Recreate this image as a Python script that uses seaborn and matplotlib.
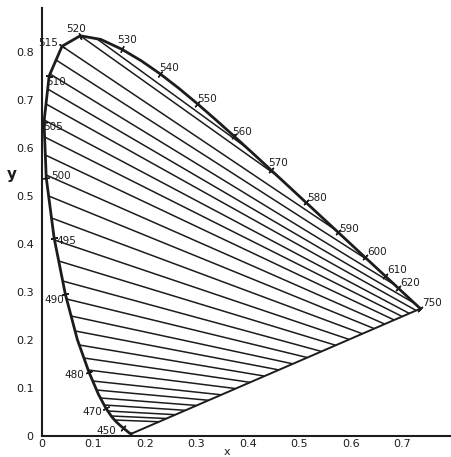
import math
import matplotlib
matplotlib.use("Agg")
import matplotlib.pyplot as plt
import seaborn as sns
import pandas as pd
from matplotlib.collections import LineCollection

# CIE 1931 spectral locus (nm, x, y)
wavelength = [380, 385, 390, 395, 400, 405, 410, 415, 420, 425, 430, 435, 440,
              445, 450, 455, 460, 465, 470, 475, 480, 485, 490, 495, 500, 505,
              510, 515, 520, 525, 530, 535, 540, 545, 550, 555, 560, 565, 570,
              575, 580, 585, 590, 595, 600, 605, 610, 615, 620, 625, 630, 635,
              640, 650, 660, 680, 700, 750]
locus_x = [0.1741, 0.1740, 0.1738, 0.1736, 0.1733, 0.1730, 0.1726, 0.1721,
           0.1714, 0.1703, 0.1689, 0.1669, 0.1644, 0.1611, 0.1566, 0.1510,
           0.1440, 0.1355, 0.1241, 0.1096, 0.0913, 0.0687, 0.0454, 0.0235,
           0.0082, 0.0039, 0.0139, 0.0389, 0.0743, 0.1142, 0.1547, 0.1929,
           0.2296, 0.2658, 0.3016, 0.3373, 0.3731, 0.4087, 0.4441, 0.4788,
           0.5125, 0.5448, 0.5752, 0.6029, 0.6270, 0.6482, 0.6658, 0.6801,
           0.6915, 0.7006, 0.7079, 0.7140, 0.7190, 0.7260, 0.7300, 0.7334,
           0.7347, 0.7347]
locus_y = [0.0050, 0.0050, 0.0049, 0.0049, 0.0048, 0.0048, 0.0048, 0.0048,
           0.0051, 0.0058, 0.0069, 0.0086, 0.0109, 0.0138, 0.0177, 0.0227,
           0.0297, 0.0399, 0.0578, 0.0868, 0.1327, 0.2007, 0.2950, 0.4127,
           0.5384, 0.6548, 0.7502, 0.8120, 0.8338, 0.8262, 0.8059, 0.7816,
           0.7543, 0.7243, 0.6923, 0.6589, 0.6245, 0.5896, 0.5547, 0.5202,
           0.4866, 0.4544, 0.4242, 0.3965, 0.3725, 0.3514, 0.3340, 0.3197,
           0.3083, 0.2993, 0.2920, 0.2859, 0.2809, 0.2740, 0.2700, 0.2666,
           0.2653, 0.2653]

# wavelengths that carry a label on the locus
label_wavelengths = [450, 470, 480, 490, 495, 500, 505, 510, 515, 520, 530,
                     540, 550, 560, 570, 580, 590, 600, 610, 620, 750]

# hatch lines across the diagram: start on the spectral locus, end on the
# long-wave edge or on the purple line
hatch_start_x = [0.1062, 0.0743, 0.0389, 0.0273, 0.0155, 0.0110, 0.0078,
                 0.0043, 0.0051, 0.0065, 0.0080, 0.0129, 0.0184, 0.0243,
                 0.0324, 0.0402, 0.0478, 0.0565, 0.0642, 0.0724, 0.0814,
                 0.0897, 0.0985, 0.1060, 0.1134, 0.1207, 0.1277, 0.1344,
                 0.1410]
hatch_start_y = [0.8277, 0.8338, 0.8120, 0.7833, 0.7542, 0.7229, 0.6917,
                 0.6583, 0.6229, 0.5854, 0.5438, 0.5000, 0.4542, 0.4083,
                 0.3646, 0.3229, 0.2854, 0.2500, 0.2188, 0.1896, 0.1625,
                 0.1375, 0.1146, 0.0958, 0.0792, 0.0646, 0.0521, 0.0417,
                 0.0333]
hatch_end_x = [0.3980, 0.4581, 0.5685, 0.6315, 0.6825, 0.7216, 0.7265,
               0.7133, 0.6994, 0.6838, 0.6654, 0.6451, 0.6220, 0.5965,
               0.5704, 0.5426, 0.5153, 0.4871, 0.4598, 0.4320, 0.4041,
               0.3760, 0.3482, 0.3235, 0.3003, 0.2785, 0.2588, 0.2417,
               0.2271]
hatch_end_y = [0.6000, 0.5409, 0.4305, 0.3675, 0.3165, 0.2774, 0.2615,
               0.2553, 0.2489, 0.2417, 0.2332, 0.2237, 0.2130, 0.2012,
               0.1890, 0.1762, 0.1634, 0.1503, 0.1377, 0.1248, 0.1118,
               0.0988, 0.0858, 0.0744, 0.0636, 0.0535, 0.0444, 0.0364,
               0.0297]

x_ticks = [0, 0.1, 0.2, 0.3, 0.4, 0.5, 0.6, 0.7]
x_tick_labels = ["0", "0.1", "0.2", "0.3", "0.4", "0.5", "0.6", "0.7"]
y_ticks = [0, 0.1, 0.2, 0.3, 0.4, 0.5, 0.6, 0.7, 0.8]
y_tick_labels = ["0", "0.1", "0.2", "0.3", "0.4", "0.5", "0.6", "0.7", "0.8"]

# label placement around each locus point: (dx px, dy px, alignment)
label_offsets = {
    450: (-6, -3, "right"), 470: (-4, -4, "right"), 480: (-5, -3, "right"),
    490: (-1, -6, "right"), 495: (2, -3, "left"), 500: (5, 2, "left"),
    505: (-1, -5, "left"), 510: (-3, -6, "left"), 515: (-4, 3, "right"),
    520: (-4, 7, "center"), 530: (-4, 9, "left"), 540: (-1, 6, "left"),
    550: (0, 5, "left"), 560: (-2, 4, "left"), 570: (-3, 7, "left"),
    580: (1, 4, "left"), 590: (1, 3, "left"), 600: (2, 5, "left"),
    610: (2, 6, "left"), 620: (2, 5, "left"), 750: (2, 6, "left"),
}

ink = "#1c1c1c"

sns.set_theme(style="white")
plt.rcParams["font.family"] = ["DejaVu Sans"]

W, H = 452, 457
fig = plt.figure(figsize=(W / 100, H / 100), dpi=100)
fig.patch.set_facecolor("white")
px_x, px_y = 515.0, 480.0          # pixels per unit of x and y
left_px, bottom_px, top_px = 42, 436, 8
ax = fig.add_axes([left_px / W, (H - bottom_px) / H,
                   (W - left_px) / W, (bottom_px - top_px) / H])
ax.set_xlim(0, (W - left_px) / px_x)
ax.set_ylim(0, (bottom_px - top_px) / px_y)
ax.set_facecolor("white")

# spectral locus
locus = pd.DataFrame({"nm": wavelength, "x": locus_x, "y": locus_y})
sns.lineplot(data=locus, x="x", y="y", sort=False, estimator=None,
             color=ink, lw=2.0, ax=ax, zorder=3)

# purple line closing the gamut
ax.plot([locus_x[-1], locus_x[0]], [locus_y[-1], locus_y[0]],
        color=ink, lw=1.4, zorder=3, solid_capstyle="round")

# hatch lines
segments = [[(sx, sy), (ex, ey)] for sx, sy, ex, ey in
            zip(hatch_start_x, hatch_start_y, hatch_end_x, hatch_end_y)]
ax.add_collection(LineCollection(segments, colors=ink, linewidths=1.1,
                                 zorder=2))

# wavelength ticks and labels on the locus
for wl in label_wavelengths:
    i = wavelength.index(wl)
    i0 = max(i - 2, 0)
    i1 = min(i + 2, len(wavelength) - 1)
    tx = (locus_x[i1] - locus_x[i0]) * px_x
    ty = (locus_y[i1] - locus_y[i0]) * px_y
    ang = math.degrees(math.atan2(ty, tx))
    ax.plot([locus_x[i]], [locus_y[i]], marker=(2, 2, ang), ms=5,
            mew=1.0, color=ink, zorder=4)
    dx, dy, ha = label_offsets[wl]
    ax.annotate(str(wl), xy=(locus_x[i], locus_y[i]), xytext=(dx, dy),
                textcoords="offset pixels", ha=ha, va="center",
                fontsize=7.5, color=ink, zorder=5)

# axes styling
for side in ("top", "right"):
    ax.spines[side].set_visible(False)
for side in ("left", "bottom"):
    ax.spines[side].set_color(ink)
    ax.spines[side].set_linewidth(1.5)

ax.set_xticks(x_ticks)
ax.set_xticklabels(x_tick_labels)
ax.set_yticks(y_ticks)
ax.set_yticklabels(y_tick_labels)
ax.tick_params(axis="x", direction="in", length=5, width=1.0, color=ink,
               labelsize=8, labelcolor=ink, pad=2)
ax.tick_params(axis="y", direction="inout", length=6, width=1.0, color=ink,
               labelsize=8, labelcolor=ink, pad=3)
ax.set_xlabel("")
ax.set_ylabel("")

fig.text(227 / W, 1 - 452 / H, "x", fontsize=8, color=ink,
         ha="center", va="center")
fig.text(12 / W, 1 - 175 / H, "y", fontsize=11, fontweight="bold",
         color=ink, ha="center", va="center")

fig.savefig("out.png", dpi=100, facecolor="white")
